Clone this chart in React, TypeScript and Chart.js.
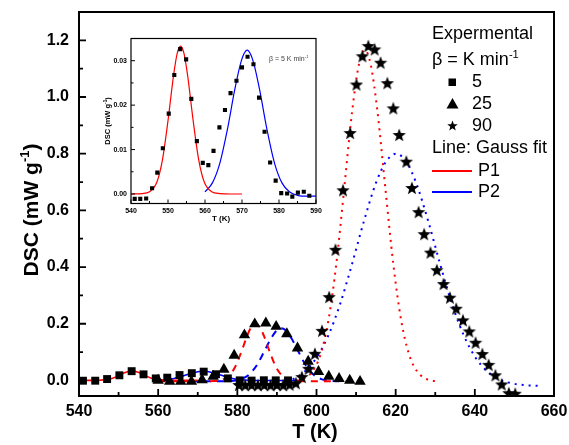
import React, { useEffect, useRef } from 'react';
import { Chart, registerables } from 'chart.js';

Chart.register(...registerables);

const FONT = '"Liberation Sans", Arial, Helvetica, sans-serif';

// ---------- Experimental data ----------
// beta = 5 K/min (squares)
const T5 = [541.0, 542.5, 544.1, 545.7, 547.1, 548.6, 550.2, 551.7, 553.3, 554.9, 556.3, 557.8, 559.4, 560.9, 562.3, 563.9, 565.4, 566.9, 568.5, 570.0, 571.5, 573.1, 574.6, 576.1, 577.6, 579.1, 580.6, 582.2, 583.6, 585.1, 586.7, 588.2, 589.7, 591.3, 592.8];
const D5 = [-0.0011, -0.0011, -0.0010, 0.0013, 0.0048, 0.0103, 0.0181, 0.0268, 0.0326, 0.0303, 0.0214, 0.0119, 0.0070, 0.0065, 0.0097, 0.0150, 0.0189, 0.0227, 0.0255, 0.0285, 0.0309, 0.0292, 0.0217, 0.0140, 0.0071, 0.0030, 0.0002, 0.0001, -0.0006, 0.0003, 0.0005, -0.0004, 0.0002, -0.0003, 0.0001];

// beta = 25 K/min (triangles)
const T25 = [560.0, 562.9, 565.7, 568.4, 571.1, 573.9, 576.6, 579.2, 581.8, 584.4, 587.2, 589.8, 592.5, 595.2, 597.9, 600.5, 603.1, 605.7, 608.4, 611.0];
const D25 = [0.000, -0.004, -0.004, -0.004, 0.002, 0.014, 0.039, 0.088, 0.160, 0.199, 0.202, 0.190, 0.164, 0.114, 0.067, 0.031, 0.014, 0.006, 0.000, -0.004];

// beta = 90 K/min (stars)
const T90 = [580.4, 582.0, 583.6, 585.2, 586.8, 588.4, 590.0, 591.6, 593.2, 594.8, 596.3, 598.0, 599.6, 601.4, 603.2, 604.8, 606.7, 608.5, 610.1, 611.6, 613.1, 614.7, 616.2, 617.9, 619.4, 620.9, 622.7, 624.1, 625.8, 627.2, 628.8, 630.4, 632.1, 633.7, 635.3, 637.0, 638.6, 640.2, 641.9, 643.5, 645.2, 646.8, 648.6, 650.2];
const D90 = [-0.016, -0.017, -0.016, -0.017, -0.016, -0.017, -0.016, -0.017, -0.015, -0.010, 0.012, 0.041, 0.094, 0.175, 0.294, 0.461, 0.671, 0.873, 1.044, 1.144, 1.180, 1.168, 1.121, 1.049, 0.960, 0.866, 0.772, 0.679, 0.594, 0.516, 0.451, 0.389, 0.340, 0.292, 0.253, 0.212, 0.173, 0.133, 0.093, 0.055, 0.018, -0.014, -0.045, -0.047];

// ---------- Gauss fit curves ----------
const FIT5_P1_T = [540, 543, 545, 547, 548.5, 550, 551.5, 552.5, 553.4, 554.3, 555.3, 556.8, 558.3, 559.8, 561.8, 564, 567, 570];
const FIT5_P1_D = [0.0000, 0.0001, 0.0005, 0.0027, 0.0077, 0.0165, 0.0267, 0.0317, 0.0333, 0.0317, 0.0267, 0.0165, 0.0077, 0.0027, 0.0005, 0.0001, 0.0000, 0.0000];
const FIT5_P2_T = [560, 562, 564, 566, 568, 569.5, 570.5, 571.4, 572.3, 573.3, 574.8, 576.8, 578.8, 580.8, 582.8, 585, 588, 590, 593, 595];
const FIT5_P2_D = [0.0005, 0.0025, 0.0069, 0.0143, 0.0233, 0.0290, 0.0315, 0.0324, 0.0315, 0.0290, 0.0233, 0.0143, 0.0069, 0.0025, 0.0005, -0.0003, -0.0005, -0.0005, -0.0005, -0.0005];

const FIT25_P1_T = [560, 570, 574, 576, 578, 579.5, 581, 582.5, 583.6, 584.6, 585.6, 586.7, 588.2, 589.7, 591.2, 593.2, 595.2, 600, 605];
const FIT25_P1_D = [-0.003, -0.003, -0.0024, 0.0013, 0.018, 0.049, 0.100, 0.158, 0.190, 0.200, 0.190, 0.158, 0.100, 0.049, 0.018, 0.0013, -0.0024, -0.003, -0.003];
const FIT25_P2_T = [565, 575, 579, 581, 583, 585, 587, 588.5, 590, 591.1, 592.2, 593.7, 595.2, 597.2, 599.2, 601.2, 603.2, 607, 610];
const FIT25_P2_D = [-0.003, -0.003, -0.001, 0.0047, 0.021, 0.0555, 0.108, 0.148, 0.177, 0.184, 0.177, 0.148, 0.108, 0.0555, 0.021, 0.0047, -0.001, -0.003, -0.003];

const FIT90_P1_T = [595, 597, 599, 601, 603, 605, 607, 609, 610.7, 612.2, 613.7, 615.4, 617.4, 619.4, 621.4, 623.4, 625.4, 627.4, 629.4, 631];
const FIT90_P1_D = [-0.001, 0.0076, 0.032, 0.091, 0.211, 0.411, 0.677, 0.949, 1.114, 1.166, 1.114, 0.949, 0.677, 0.411, 0.211, 0.091, 0.032, 0.0076, -0.001, -0.004];
const FIT90_P2_T = [594, 597, 600, 603, 606, 609, 612, 615, 617.5, 620.1, 622.7, 625.2, 628.2, 631.2, 634.2, 637.2, 640.2, 643.2, 646.2, 650, 653, 656];
const FIT90_P2_D = [0.0036, 0.031, 0.080, 0.159, 0.271, 0.412, 0.563, 0.696, 0.771, 0.800, 0.771, 0.696, 0.563, 0.412, 0.271, 0.159, 0.080, 0.031, 0.0036, -0.012, -0.017, -0.019];

// ---------- Axis ticks ----------
const X_TICKS_MAIN = [540, 560, 580, 600, 620, 640, 660];
const X_MINOR_MAIN = [550, 570, 590, 610, 630, 650];
const Y_TICKS_MAIN = [0, 0.2, 0.4, 0.6, 0.8, 1.0, 1.2];
const Y_MINOR_MAIN = [0.1, 0.3, 0.5, 0.7, 0.9, 1.1];
const X_TICKS_INSET = [540, 550, 560, 570, 580, 590];
const X_MINOR_INSET = [545, 555, 565, 575, 585];
const Y_TICKS_INSET = [0, 0.01, 0.02, 0.03];
const Y_MINOR_INSET = [0.005, 0.015, 0.025];

const pts = (xs: number[], ys: number[]) => xs.map((x, i) => ({ x, y: ys[i] }));

function makeStar(size: number) {
  const c = document.createElement('canvas');
  c.width = size;
  c.height = size;
  const g = c.getContext('2d')!;
  const cx = size / 2, cy = size / 2 + 0.5, R = size / 2, r = R * 0.42;
  g.beginPath();
  for (let i = 0; i < 10; i++) {
    const a = -Math.PI / 2 + (i * Math.PI) / 5;
    const rad = i % 2 === 0 ? R : r;
    g.lineTo(cx + rad * Math.cos(a), cy + rad * Math.sin(a));
  }
  g.closePath();
  g.fillStyle = '#000';
  g.fill();
  return c;
}

type Part = { t: string; sup?: boolean };
function drawRich(ctx: CanvasRenderingContext2D, parts: Part[], x: number, y: number, size: number, weight: string, align: 'left' | 'center', rotate = 0, color = '#000') {
  ctx.save();
  ctx.translate(x, y);
  if (rotate) ctx.rotate(rotate);
  const base = `${weight} ${size}px ${FONT}`;
  const supF = `${weight} ${size * 0.62}px ${FONT}`;
  let total = 0;
  parts.forEach((p) => {
    ctx.font = p.sup ? supF : base;
    total += ctx.measureText(p.t).width;
  });
  let cx = align === 'center' ? -total / 2 : 0;
  ctx.textAlign = 'left';
  ctx.textBaseline = 'alphabetic';
  ctx.fillStyle = color;
  const by = size * 0.36;
  parts.forEach((p) => {
    ctx.font = p.sup ? supF : base;
    ctx.fillText(p.t, cx, p.sup ? by - size * 0.42 : by);
    cx += ctx.measureText(p.t).width;
  });
  ctx.restore();
}

type Decor = {
  xMajor: number[]; xMinor: number[]; yMajor: number[]; yMinor: number[];
  major: number; minor: number; frameWidth: number; tickWidth: number;
  extra: (ctx: CanvasRenderingContext2D, chart: any) => void;
};

function decorPlugin(d: Decor) {
  return {
    id: 'decor' + Math.random().toString(36).slice(2),
    afterDraw(chart: any) {
      const ctx = chart.ctx as CanvasRenderingContext2D;
      const { left, right, top, bottom } = chart.chartArea;
      const xs = chart.scales.x, ys = chart.scales.y;
      ctx.save();
      ctx.strokeStyle = '#000';
      ctx.lineWidth = d.tickWidth;
      ctx.beginPath();
      d.xMajor.forEach((v) => { const p = xs.getPixelForValue(v); ctx.moveTo(p, bottom); ctx.lineTo(p, bottom - d.major); });
      d.xMinor.forEach((v) => { const p = xs.getPixelForValue(v); ctx.moveTo(p, bottom); ctx.lineTo(p, bottom - d.minor); });
      d.yMajor.forEach((v) => { const p = ys.getPixelForValue(v); ctx.moveTo(left, p); ctx.lineTo(left + d.major, p); });
      d.yMinor.forEach((v) => { const p = ys.getPixelForValue(v); ctx.moveTo(left, p); ctx.lineTo(left + d.minor, p); });
      ctx.stroke();
      ctx.lineWidth = d.frameWidth;
      ctx.strokeRect(left, top, right - left, bottom - top);
      d.extra(ctx, chart);
      ctx.restore();
    },
  };
}

export default function App() {
  const mainRef = useRef<HTMLCanvasElement>(null);
  const insetRef = useRef<HTMLCanvasElement>(null);

  useEffect(() => {
    document.body.style.margin = '0';
    const star = makeStar(14);
    const legendStar = makeStar(11);

    const lineDs = (xs: number[], ys: number[], color: string, width: number, dash: number[] = []) => ({
      data: pts(xs, ys),
      showLine: true,
      borderColor: color,
      borderWidth: width,
      borderDash: dash,
      pointRadius: 0,
      fill: false,
      tension: 0.4,
      cubicInterpolationMode: 'monotone',
    });

    const mainChart = new Chart(mainRef.current!, {
      type: 'scatter',
      data: {
        datasets: [
          { data: pts(T90, D90), pointStyle: star as any, pointRadius: 7, showLine: false },
          { data: pts(T25, D25), pointStyle: 'triangle', pointRadius: 6.6, pointBackgroundColor: '#000', pointBorderColor: '#000', pointBorderWidth: 0, showLine: false },
          { data: pts(T5, D5).filter((_, i) => i % 2 === 0), pointStyle: 'rect', pointRadius: 5.6, pointBackgroundColor: '#000', pointBorderColor: '#000', pointBorderWidth: 0, showLine: false },
          lineDs(FIT5_P1_T, FIT5_P1_D, '#ff0000', 1.6),
          lineDs(FIT5_P2_T, FIT5_P2_D, '#0000ff', 1.6),
          lineDs(FIT25_P1_T, FIT25_P1_D, '#ff0000', 2, [7, 6]),
          lineDs(FIT25_P2_T, FIT25_P2_D, '#0000ff', 2, [7, 6]),
          lineDs(FIT90_P1_T, FIT90_P1_D, '#ff0000', 2, [2, 5]),
          lineDs(FIT90_P2_T, FIT90_P2_D, '#0000ff', 2, [2, 5]),
        ] as any,
      },
      options: {
        responsive: false,
        animation: false,
        events: [],
        plugins: { legend: { display: false }, tooltip: { enabled: false } },
        layout: { padding: { left: 0, right: 15, top: 12, bottom: 0 } },
        scales: {
          x: {
            type: 'linear', min: 540, max: 660,
            grid: { display: false, drawTicks: false }, border: { display: false },
            ticks: { font: { family: FONT, size: 16, weight: 'bold' }, color: '#000', padding: 6, autoSkip: false, maxRotation: 0, callback: (v: any) => String(v) },
            afterBuildTicks: (s: any) => { s.ticks = X_TICKS_MAIN.map((v) => ({ value: v })); },
            afterFit: (s: any) => { s.height = 49; s.paddingLeft = 0; s.paddingRight = 0; },
          },
          y: {
            type: 'linear', min: -0.055, max: 1.3,
            grid: { display: false, drawTicks: false }, border: { display: false },
            ticks: { font: { family: FONT, size: 16, weight: 'bold' }, color: '#000', padding: 10, autoSkip: false, callback: (v: any) => Number(v).toFixed(1) },
            afterBuildTicks: (s: any) => { s.ticks = Y_TICKS_MAIN.map((v) => ({ value: v })); },
            afterFit: (s: any) => { s.width = 79; s.paddingTop = 0; s.paddingBottom = 0; },
          },
        },
      } as any,
      plugins: [
        decorPlugin({
          xMajor: X_TICKS_MAIN, xMinor: X_MINOR_MAIN, yMajor: Y_TICKS_MAIN, yMinor: Y_MINOR_MAIN,
          major: 7, minor: 4, frameWidth: 2, tickWidth: 1.8,
          extra: (ctx) => {
            ctx.fillStyle = '#000';
            ctx.font = `bold 20px ${FONT}`;
            ctx.textAlign = 'center';
            ctx.textBaseline = 'middle';
            ctx.fillText('T (K)', 315, 432);
            drawRich(ctx, [{ t: 'DSC (mW g' }, { t: '-1', sup: true }, { t: ')' }], 30, 210, 21, 'bold', 'center', -Math.PI / 2);
            // legend
            ctx.font = `18px ${FONT}`;
            ctx.textAlign = 'left';
            ctx.textBaseline = 'middle';
            ctx.fillText('Expermental', 432, 34);
            drawRich(ctx, [{ t: '\u03b2 = K min' }, { t: '-1', sup: true }], 432, 59, 18, 'normal', 'left');
            ctx.font = `18px ${FONT}`;
            ctx.textAlign = 'left';
            ctx.textBaseline = 'middle';
            ctx.fillStyle = '#000';
            ctx.fillRect(452 - 3.5, 82 - 3.5, 7.5, 7.5);
            ctx.fillText('5', 472, 82);
            ctx.beginPath();
            ctx.moveTo(452.5, 98); ctx.lineTo(458.5, 108.5); ctx.lineTo(446.5, 108.5); ctx.closePath();
            ctx.fill();
            ctx.fillText('25', 472, 104);
            ctx.drawImage(legendStar, 447, 120);
            ctx.fillText('90', 472, 126);
            ctx.fillText('Line: Gauss fit', 432, 148);
            ctx.lineWidth = 2;
            ctx.strokeStyle = '#ff0000';
            ctx.beginPath(); ctx.moveTo(432, 171); ctx.lineTo(472, 171); ctx.stroke();
            ctx.strokeStyle = '#0000ff';
            ctx.beginPath(); ctx.moveTo(432, 192); ctx.lineTo(472, 192); ctx.stroke();
            ctx.fillText('P1', 478, 171);
            ctx.fillText('P2', 478, 192);
          },
        }),
      ],
    });

    const insetChart = new Chart(insetRef.current!, {
      type: 'scatter',
      data: {
        datasets: [
          { data: pts(T5, D5).filter((p) => p.x <= 589), pointStyle: 'rect', pointRadius: 2.9, pointBackgroundColor: '#000', pointBorderColor: '#000', pointBorderWidth: 0, showLine: false },
          lineDs(FIT5_P1_T, FIT5_P1_D, '#ff0000', 1.2),
          lineDs(FIT5_P2_T, FIT5_P2_D, '#0000ff', 1.2),
        ] as any,
      },
      options: {
        responsive: false,
        animation: false,
        events: [],
        plugins: { legend: { display: false }, tooltip: { enabled: false } },
        layout: { padding: { left: 0, right: 9, top: 13.5, bottom: 0 } },
        scales: {
          x: {
            type: 'linear', min: 540, max: 590,
            grid: { display: false, drawTicks: false }, border: { display: false },
            ticks: { font: { family: FONT, size: 7, weight: 'bold' }, color: '#000', padding: 3, autoSkip: false, maxRotation: 0, callback: (v: any) => String(v) },
            afterBuildTicks: (s: any) => { s.ticks = X_TICKS_INSET.map((v) => ({ value: v })); },
            afterFit: (s: any) => { s.height = 26.5; s.paddingLeft = 0; s.paddingRight = 0; },
          },
          y: {
            type: 'linear', min: -0.00214, max: 0.035,
            grid: { display: false, drawTicks: false }, border: { display: false },
            ticks: { font: { family: FONT, size: 7, weight: 'bold' }, color: '#000', padding: 4, autoSkip: false, callback: (v: any) => Number(v).toFixed(2) },
            afterBuildTicks: (s: any) => { s.ticks = Y_TICKS_INSET.map((v) => ({ value: v })); },
            afterFit: (s: any) => { s.width = 31; s.paddingTop = 0; s.paddingBottom = 0; },
          },
        },
      } as any,
      plugins: [
        decorPlugin({
          xMajor: X_TICKS_INSET, xMinor: X_MINOR_INSET, yMajor: Y_TICKS_INSET, yMinor: Y_MINOR_INSET,
          major: 4, minor: 2.5, frameWidth: 1.2, tickWidth: 1,
          extra: (ctx) => {
            ctx.fillStyle = '#000';
            ctx.font = `bold 8px ${FONT}`;
            ctx.textAlign = 'center';
            ctx.textBaseline = 'middle';
            ctx.fillText('T (K)', 121, 194);
            drawRich(ctx, [{ t: 'DSC (mW g' }, { t: '-1', sup: true }, { t: ')' }], 7, 96, 7.5, 'bold', 'center', -Math.PI / 2);
            drawRich(ctx, [{ t: '\u03b2 = 5 K min' }, { t: '-1', sup: true }], 169, 33, 7, 'normal', 'left', 0, '#444');
          },
        }),
      ],
    });

    return () => {
      mainChart.destroy();
      insetChart.destroy();
    };
  }, []);

  return (
    <div style={{ position: 'relative', width: 569, height: 445, background: '#fff' }}>
      <canvas ref={mainRef} width={569} height={445} style={{ position: 'absolute', left: 0, top: 0, width: 569, height: 445 }} />
      <canvas ref={insetRef} width={225} height={205} style={{ position: 'absolute', left: 100, top: 25, width: 225, height: 205 }} />
    </div>
  );
}
